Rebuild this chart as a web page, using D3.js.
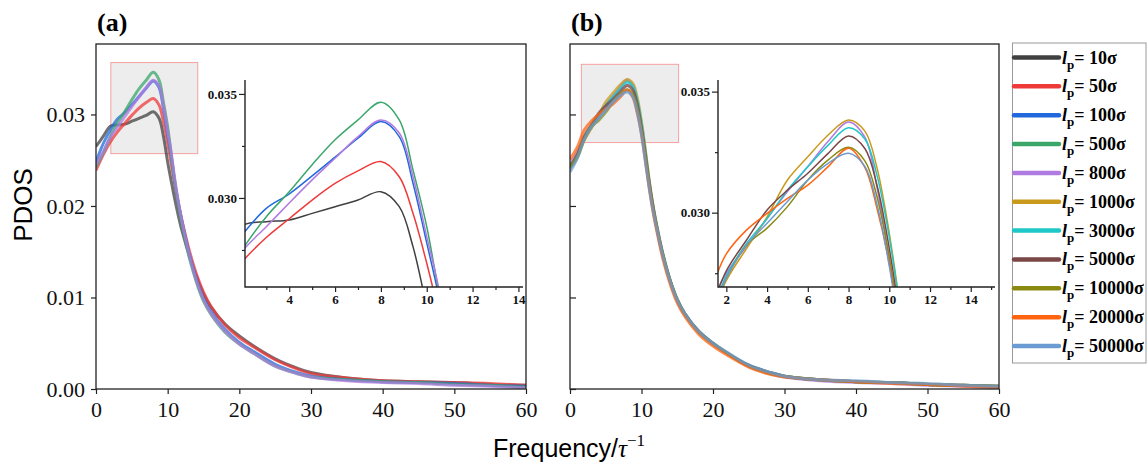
<!DOCTYPE html>
<html>
<head>
<meta charset="utf-8">
<script src="https://cdn.jsdelivr.net/npm/d3@7"></script>
<style>
  body { margin: 0; background: #fff; }
  svg { display: block; }
</style>
</head>
<body>
<div id="chart"></div>
<script>
// frequency grid (tau^-1)
const freq = [0, 1, 2, 3, 4, 5, 6, 7, 8, 8.8, 9.4, 10, 10.5, 11, 11.5, 12, 13, 14, 15, 16, 18, 20, 22, 25, 28, 30, 35, 40, 45, 50, 55, 60];

// PDOS for each persistence length
const lp10 = [0.0265, 0.0276, 0.0287, 0.02886, 0.02894, 0.02926, 0.02958, 0.0299, 0.0303, 0.02958, 0.02766, 0.0248, 0.0227, 0.0207, 0.0189, 0.0173, 0.0146, 0.0123, 0.0104, 0.0090, 0.0071, 0.0058, 0.0047, 0.0033, 0.0023, 0.0018, 0.0012, 0.0009, 0.0008, 0.0007, 0.0005, 0.0004];
const lp50 = [0.0239, 0.0256, 0.0270, 0.0281, 0.0290, 0.0299, 0.0307, 0.0313, 0.03175, 0.03102, 0.02926, 0.02686, 0.0246, 0.0223, 0.0202, 0.0184, 0.0152, 0.0126, 0.0106, 0.0091, 0.0070, 0.0056, 0.0046, 0.0032, 0.0022, 0.0017, 0.0012, 0.0009, 0.0008, 0.0007, 0.0006, 0.0004];
const lp100 = [0.0248, 0.0268, 0.0283, 0.0295, 0.03019, 0.03106, 0.03196, 0.03287, 0.03367, 0.03295, 0.03071, 0.02784, 0.0254, 0.0226, 0.0203, 0.0183, 0.0148, 0.0120, 0.0099, 0.0085, 0.0065, 0.0051, 0.0041, 0.0027, 0.0018, 0.0014, 0.0010, 0.0008, 0.0007, 0.0006, 0.0004, 0.0003];
const lp500 = [0.0243, 0.0258, 0.0276, 0.0291, 0.0303, 0.0316, 0.0328, 0.03375, 0.0346, 0.03375, 0.03135, 0.02862, 0.0256, 0.0226, 0.0201, 0.0180, 0.0144, 0.0117, 0.0096, 0.0082, 0.0062, 0.0049, 0.0039, 0.0025, 0.0017, 0.0013, 0.0010, 0.0008, 0.0007, 0.0005, 0.0004, 0.0002];
const lp800 = [0.0245, 0.0259, 0.0275, 0.02862, 0.02976, 0.03087, 0.03191, 0.03295, 0.03375, 0.03312, 0.03102, 0.02814, 0.0258, 0.0229, 0.0204, 0.0183, 0.0147, 0.0119, 0.0098, 0.0083, 0.0063, 0.0049, 0.0039, 0.0025, 0.0017, 0.0013, 0.0009, 0.0007, 0.0006, 0.0004, 0.0003, 0.0001];
const lp1000 = [0.0241, 0.0252, 0.0272, 0.02853, 0.02983, 0.03135, 0.03231, 0.03321, 0.03383, 0.03337, 0.03184, 0.02915, 0.0263, 0.0233, 0.0206, 0.0184, 0.0147, 0.0119, 0.0098, 0.0083, 0.0063, 0.0050, 0.0039, 0.0025, 0.0017, 0.0014, 0.0010, 0.0008, 0.0007, 0.0005, 0.0004, 0.0003];
const lp3000 = [0.0242, 0.0254, 0.0274, 0.02874, 0.02976, 0.03093, 0.0319, 0.03279, 0.03351, 0.03304, 0.03153, 0.02899, 0.0262, 0.0231, 0.0205, 0.0183, 0.0147, 0.0119, 0.0098, 0.0083, 0.0063, 0.0050, 0.0039, 0.0026, 0.0018, 0.0014, 0.0010, 0.0008, 0.0007, 0.0005, 0.0004, 0.0003];
const lp5000 = [0.0243, 0.0256, 0.0276, 0.02888, 0.03011, 0.03093, 0.03163, 0.03245, 0.03317, 0.03265, 0.03112, 0.02852, 0.0258, 0.0229, 0.0204, 0.0182, 0.0146, 0.0118, 0.0097, 0.0083, 0.0063, 0.0050, 0.0039, 0.0026, 0.0018, 0.0014, 0.0010, 0.0008, 0.0007, 0.0005, 0.0004, 0.0003];
const lp10000 = [0.0242, 0.0254, 0.0273, 0.02867, 0.02936, 0.03025, 0.03135, 0.03218, 0.0327, 0.03214, 0.03065, 0.02814, 0.0255, 0.0227, 0.0202, 0.0181, 0.0145, 0.0118, 0.0097, 0.0082, 0.0062, 0.0049, 0.0039, 0.0025, 0.0017, 0.0014, 0.0010, 0.0008, 0.0007, 0.0005, 0.0004, 0.0003];
const lp20000 = [0.0251, 0.0264, 0.0283, 0.02929, 0.02997, 0.03059, 0.03114, 0.0319, 0.03266, 0.03187, 0.03016, 0.0279, 0.0252, 0.0224, 0.0199, 0.0178, 0.0142, 0.0115, 0.0094, 0.0080, 0.0060, 0.0047, 0.0037, 0.0024, 0.0016, 0.0013, 0.0010, 0.0008, 0.0006, 0.0005, 0.0003, 0.0002];
const lp50000 = [0.0237, 0.0252, 0.0273, 0.02867, 0.02956, 0.03046, 0.03135, 0.03204, 0.03245, 0.03191, 0.03033, 0.02779, 0.0251, 0.0224, 0.0200, 0.0180, 0.0145, 0.0118, 0.0097, 0.0083, 0.0063, 0.0050, 0.0040, 0.0026, 0.0018, 0.0014, 0.0010, 0.0009, 0.0007, 0.0006, 0.0004, 0.0003];

const lpLabels = ['10', '50', '100', '500', '800', '1000', '3000', '5000', '10000', '20000', '50000'];
const lpValues = [lp10, lp50, lp100, lp500, lp800, lp1000, lp3000, lp5000, lp10000, lp20000, lp50000];
const panelASeries = ['10', '50', '100', '500', '800'];
const panelBSeries = ['800', '1000', '3000', '5000', '10000', '20000', '50000'];

const mainXTicks = [0, 10, 20, 30, 40, 50, 60];
const mainYTicks = [0, 0.01, 0.02, 0.03];
const insetYTicks = [0.030, 0.035];
const insetYMinor = [0.0275, 0.0325];

const colors = ['#404040', '#ef3a3a', '#2068dc', '#3aa66a', '#b07be0', '#c99a1c', '#1fc8c8', '#7a4646', '#8a8a10', '#ff6410', '#6a9bd2'];

const W = 1148, H = 465;
const serif = '"Liberation Serif", "Times New Roman", serif';
const sans = '"Liberation Sans", Arial, sans-serif';
const axisColor = '#222';

const svg = d3.select('#chart').append('svg')
    .attr('width', W)
    .attr('height', H);
const defs = svg.append('defs');

const seriesByLabel = {};
lpLabels.forEach((l, i) => {
    seriesByLabel[l] = { label: l, color: colors[i], points: d3.zip(freq, lpValues[i]) };
});

function styleAxis(g, fontSize, bold) {
    g.select('.domain').remove();
    g.selectAll('.tick line').attr('stroke', axisColor).attr('stroke-width', 1.2);
    g.selectAll('.tick text')
        .attr('fill', '#111')
        .style('font-family', serif)
        .style('font-size', fontSize + 'px')
        .style('font-weight', bold ? 'bold' : 'normal');
}

function drawPanel(cfg) {
    const x = d3.scaleLinear().domain([0, 60]).range([cfg.left, cfg.right]);
    const y = d3.scaleLinear().domain([0, 0.0377]).range([389, 44]);
    const ix = d3.scaleLinear().domain(cfg.insetX).range([cfg.insetLeft, cfg.insetRight]);
    const iy = d3.scaleLinear().domain(cfg.insetY).range([287, 80]);
    const series = cfg.series.map(l => seriesByLabel[l]);

    // zoom window in main plot
    svg.append('rect')
        .attr('x', x(cfg.insetX[0]))
        .attr('y', y(cfg.insetY[1]))
        .attr('width', x(cfg.insetX[1]) - x(cfg.insetX[0]))
        .attr('height', y(cfg.insetY[0]) - y(cfg.insetY[1]))
        .attr('fill', '#ededed')
        .attr('stroke', '#f5a0a0')
        .attr('stroke-width', 1);

    // main curves
    const clipMain = cfg.id + '-main';
    defs.append('clipPath').attr('id', clipMain)
        .append('rect')
        .attr('x', cfg.left).attr('y', 44)
        .attr('width', cfg.right - cfg.left).attr('height', 345);

    const line = d3.line()
        .x(d => x(d[0]))
        .y(d => y(d[1]))
        .curve(d3.curveCatmullRom.alpha(0.5));

    svg.append('g').attr('clip-path', `url(#${clipMain})`)
        .selectAll('path')
        .data(series)
        .enter()
        .append('path')
        .attr('d', d => line(d.points))
        .attr('fill', 'none')
        .attr('stroke', d => d.color)
        .attr('stroke-width', 3)
        .attr('stroke-opacity', 0.75);

    // frame
    svg.append('rect')
        .attr('x', cfg.left).attr('y', 44)
        .attr('width', cfg.right - cfg.left).attr('height', 345)
        .attr('fill', 'none')
        .attr('stroke', axisColor)
        .attr('stroke-width', 1.3);

    const gx = svg.append('g')
        .attr('transform', 'translate(0,389)')
        .call(d3.axisBottom(x).tickValues(mainXTicks).tickSize(5).tickPadding(7).tickFormat(d3.format('d')));
    styleAxis(gx, 22, false);

    const yAxis = d3.axisLeft(y).tickValues(mainYTicks);
    if (cfg.yLabels) {
        yAxis.tickSize(5).tickPadding(6).tickFormat(d3.format('.2f'));
    } else {
        yAxis.tickSize(-6).tickFormat('');
    }
    const gy = svg.append('g')
        .attr('transform', `translate(${cfg.left},0)`)
        .call(yAxis);
    styleAxis(gy, 22, false);

    // panel tag
    svg.append('text')
        .attr('x', cfg.left + 1)
        .attr('y', 31)
        .style('font-family', serif)
        .style('font-weight', 'bold')
        .style('font-size', '26px')
        .text(cfg.tag);

    // inset
    const clipInset = cfg.id + '-inset';
    defs.append('clipPath').attr('id', clipInset)
        .append('rect')
        .attr('x', cfg.insetLeft).attr('y', 80)
        .attr('width', cfg.insetRight - cfg.insetLeft).attr('height', 207);

    const iline = d3.line()
        .x(d => ix(d[0]))
        .y(d => iy(d[1]))
        .curve(d3.curveCatmullRom.alpha(0.5));

    svg.append('g').attr('clip-path', `url(#${clipInset})`)
        .selectAll('path')
        .data(series)
        .enter()
        .append('path')
        .attr('d', d => iline(d.points))
        .attr('fill', 'none')
        .attr('stroke', d => d.color)
        .attr('stroke-width', 1.5);

    // inset axis lines
    svg.append('path')
        .attr('d', `M${cfg.insetLeft},80V287H${cfg.insetRight}`)
        .attr('fill', 'none')
        .attr('stroke', axisColor)
        .attr('stroke-width', 1.4);

    const ixMajor = d3.range(Math.ceil(cfg.insetX[0] / 2) * 2, cfg.insetX[1], 2);
    const ixMinor = d3.range(Math.ceil((cfg.insetX[0] - 1) / 2) * 2 + 1, cfg.insetX[1], 2);

    const gix = svg.append('g').attr('transform', 'translate(0,287)')
        .call(d3.axisBottom(ix).tickValues(ixMajor).tickSize(5).tickPadding(3).tickFormat(d3.format('d')));
    styleAxis(gix, 13, true);
    const gixm = svg.append('g').attr('transform', 'translate(0,287)')
        .call(d3.axisBottom(ix).tickValues(ixMinor).tickSize(3).tickFormat(''));
    styleAxis(gixm, 13, true);

    const giy = svg.append('g').attr('transform', `translate(${cfg.insetLeft},0)`)
        .call(d3.axisLeft(iy).tickValues(insetYTicks).tickSize(6).tickPadding(2).tickFormat(d3.format('.3f')));
    styleAxis(giy, 13, true);
    const giym = svg.append('g').attr('transform', `translate(${cfg.insetLeft},0)`)
        .call(d3.axisLeft(iy).tickValues(insetYMinor.filter(v => v > cfg.insetY[0])).tickSize(3).tickFormat(''));
    styleAxis(giym, 13, true);
}

drawPanel({
    id: 'pa', tag: '(a)', left: 96, right: 526, yLabels: true,
    series: panelASeries,
    insetX: [2.07, 14.2], insetY: [0.02572, 0.03567],
    insetLeft: 245, insetRight: 523
});

drawPanel({
    id: 'pb', tag: '(b)', left: 570, right: 999, yLabels: false,
    series: panelBSeries,
    insetX: [1.59, 15.19], insetY: [0.02693, 0.03548],
    insetLeft: 718, insetRight: 995
});

// axis titles
svg.append('text')
    .attr('transform', 'translate(32,205) rotate(-90)')
    .attr('text-anchor', 'middle')
    .style('font-family', sans)
    .style('font-size', '26px')
    .text('PDOS');

const xt = svg.append('text')
    .attr('x', 493)
    .attr('y', 457)
    .style('font-family', sans)
    .style('font-size', '25px');
xt.append('tspan').text('Frequency/');
xt.append('tspan').style('font-family', serif).style('font-style', 'italic').text('τ');
xt.append('tspan').attr('dy', -11).style('font-size', '17px').style('font-family', serif).text('−1');

// legend
const legend = svg.append('g');
legend.append('rect')
    .attr('x', 1012.5).attr('y', 43)
    .attr('width', 133.5).attr('height', 320)
    .attr('fill', '#fff')
    .attr('stroke', '#999')
    .attr('stroke-width', 1);

const rowY = d3.scalePoint().domain(lpLabels).range([57.5, 346]);

const rows = legend.selectAll('.row')
    .data(lpLabels.map(l => seriesByLabel[l]))
    .enter()
    .append('g')
    .attr('class', 'row')
    .attr('transform', d => `translate(0,${rowY(d.label)})`);

rows.append('line')
    .attr('x1', 1014).attr('x2', 1059)
    .attr('stroke', d => d.color)
    .attr('stroke-width', 4.5)
    .attr('stroke-linecap', 'round');

const lt = rows.append('text')
    .attr('x', 1062)
    .attr('y', 6)
    .style('font-family', serif)
    .style('font-weight', 'bold')
    .style('font-size', '18px');
lt.append('tspan').style('font-style', 'italic').text('l');
lt.append('tspan').attr('dy', 5).style('font-size', '13px').text('p');
lt.append('tspan').attr('dy', -5).text(d => `= ${d.label}σ`);
</script>
</body>
</html>
